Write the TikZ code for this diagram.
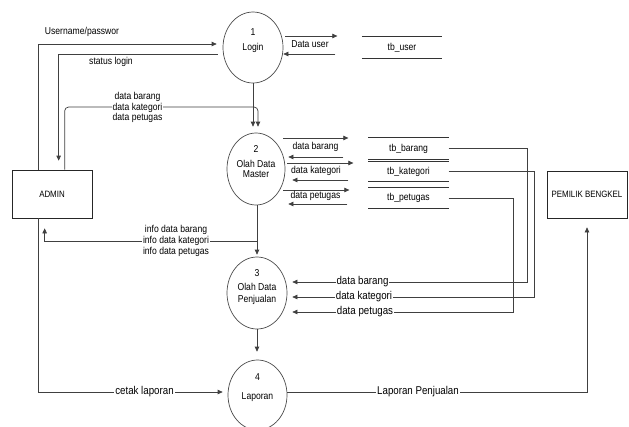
\documentclass[tikz,border=0pt]{standalone}
\usepackage{fontspec}
\setmainfont{Liberation Sans}[FakeStretch=0.86]
\usetikzlibrary{arrows.meta,shapes.geometric}

\begin{document}
\begin{tikzpicture}[x=1pt,y=-1pt,
  line/.style={draw=black!75, line width=0.7pt},
  flow/.style={line, -{Triangle[length=5pt,width=4.5pt]}},
  proc/.style={ellipse, draw=black!70, line width=0.7pt, minimum width=60pt,
    minimum height=72pt, inner sep=0pt},
  entity/.style={rectangle, draw=black!85, line width=0.7pt, minimum width=80pt,
    minimum height=48pt, inner sep=0pt, font=\fontsize{9.2}{10}\selectfont},
  txt/.style={font=\fontsize{10}{10.5}\selectfont, inner sep=1pt, align=center},
  lbl/.style={txt, fill=white},
  biglbl/.style={font=\fontsize{11.3}{12}\selectfont, inner sep=1pt, fill=white},
  store/.style={minimum width=80pt, inner sep=0pt, font=\fontsize{10}{10.5}\selectfont},
  storeline/.style={draw=black!80, line width=0.7pt}
]
\useasboundingbox (0,0) rectangle (629,426);
\fill[white] (0,0) rectangle (629,426);

% external entities
\node[entity] (admin) at (52,194) {ADMIN};
\node[entity, minimum height=47pt] (owner) at (587,194.5) {PEMILIK BENGKEL};

% processes
\node[proc, minimum height=71pt] (p1) at (253,47.5) {};
\node[proc, minimum width=58pt] (p2) at (256,169) {};
\node[proc] (p3) at (257,293) {};
\node[proc, minimum width=59pt, minimum height=70pt] (p4) at (257.5,395) {};

\node[txt] (p1n) at (253,32) {1};
\node[txt] (p1t) at (253,48) {Login};
\node[txt] (p2n) at (256,149) {2};
\node[txt, font=\fontsize{10}{10}\selectfont] (p2t) at (256,169) {Olah Data\\Master};
\node[txt] (p3n) at (257,273) {3};
\node[txt, font=\fontsize{10}{12}\selectfont] (p3t) at (257,294) {Olah Data\\Penjualan};
\node[txt] (p4n) at (257.5,377) {4};
\node[txt] (p4t) at (257.5,397) {Laporan};

% data stores
\node[store, minimum height=21pt] (sUser) at (402,47.5) {tb\_user};
\node[store, minimum height=21pt] (sBar) at (408.5,148.5) {tb\_barang};
\node[store, minimum height=19pt] (sKat) at (408.5,171.5) {tb\_kategori};
\node[store, minimum height=20pt] (sPet) at (408.5,198) {tb\_petugas};
\foreach \s in {sUser,sBar,sKat,sPet}{
  \draw[storeline] (\s.north west) -- (\s.north east)
                   (\s.south west) -- (\s.south east);
}

% login flows
\draw[flow, shorten >=6pt] ([xshift=27pt]admin.north west) |- ([yshift=3.5pt]p1.west);
\draw[flow, shorten <=5pt, shorten >=9pt] ([yshift=-6.5pt]p1.west) -| ([xshift=47pt]admin.north west);
\draw[flow] ([xshift=2pt,yshift=11.5pt]p1.east) -- ++(52,0);
\draw[flow] ([xshift=52pt,yshift=-6.5pt]p1.east) -- ++(-52,0);

% master data input
\coordinate (jAdm) at (258,107);
\draw[flow, rounded corners=4pt, shorten >=6pt] ([xshift=53pt]admin.north west) |- (jAdm) -- ([xshift=2pt]p2.north);
\draw[flow, shorten >=6pt] (p1.south) -- (p1.south |- p2.north);

% master <-> stores
\draw[flow] ([xshift=-2pt,yshift=31pt]p2.east) -- ++(65,0);
\draw[flow] ([xshift=58pt,yshift=12pt]p2.east) -- ++(-55,0);
\draw[flow] ([xshift=2pt,yshift=6pt]p2.east) -- ++(66,0);
\draw[flow] ([xshift=63pt,yshift=-11pt]p2.east) -- ++(-56,0);
\draw[flow] ([xshift=-2pt,yshift=-21pt]p2.east) -- ++(66,0);
\draw[flow] ([xshift=62pt,yshift=-35pt]p2.east) -- ++(-59,0);

% stores -> sales processing
\draw[flow, shorten >=5pt] (sBar.east) -- ++(78.5,0) |- ([yshift=11pt]p3.east);
\draw[flow, shorten >=5pt] (sKat.east) -- ++(85.5,0) |- ([yshift=-4pt]p3.east);
\draw[flow, shorten >=5pt] (sPet.east) -- ++(64.5,0) |- ([yshift=-19pt]p3.east);

% master -> sales processing, info back to admin
\draw[flow, shorten >=2pt] (p2.south -| p3.north) -- (p3.north);
\coordinate (jInfo) at (257,241);
\draw[flow] (jInfo) -| ([xshift=33pt,yshift=-10pt]admin.south west);

% sales processing -> report
\draw[flow, shorten >=8pt] (p3.south) -- (p3.south |- p4.north);
\draw[flow, shorten >=5pt] ([xshift=27pt]admin.south west) |- ([yshift=3pt]p4.west);
\draw[flow, shorten >=9pt] ([yshift=3pt]p4.east) -| (owner.south);

% flow labels
\node[txt] (lUserA) at (82,32) {Username/passwor};
\node[txt] (lUserB) at (111,62) {status login};
\node[txt] (lUser) at (310,44) {Data user};
\node[lbl, font=\fontsize{10}{10.5}\selectfont] (lAdm) at (137.5,107.5) {data barang\\data kategori\\data petugas};
\node[txt] (lBarA) at (315.5,147) {data barang};
\node[txt] (lKatA) at (316,171) {data kategori};
\node[txt] (lPetA) at (315.5,196) {data petugas};
\node[lbl, font=\fontsize{10}{11}\selectfont] (lInfo) at (176,241) {info data barang\\info data kategori\\info data petugas};
\node[biglbl] (lBarB) at (362.5,282) {data barang};
\node[biglbl] (lKatB) at (364,297) {data kategori};
\node[biglbl] (lPetB) at (365,312) {data petugas};
\node[biglbl] (lPrint) at (144.5,392) {cetak laporan};
\node[biglbl] (lRep) at (418,392) {Laporan Penjualan};
\end{tikzpicture}
\end{document}
